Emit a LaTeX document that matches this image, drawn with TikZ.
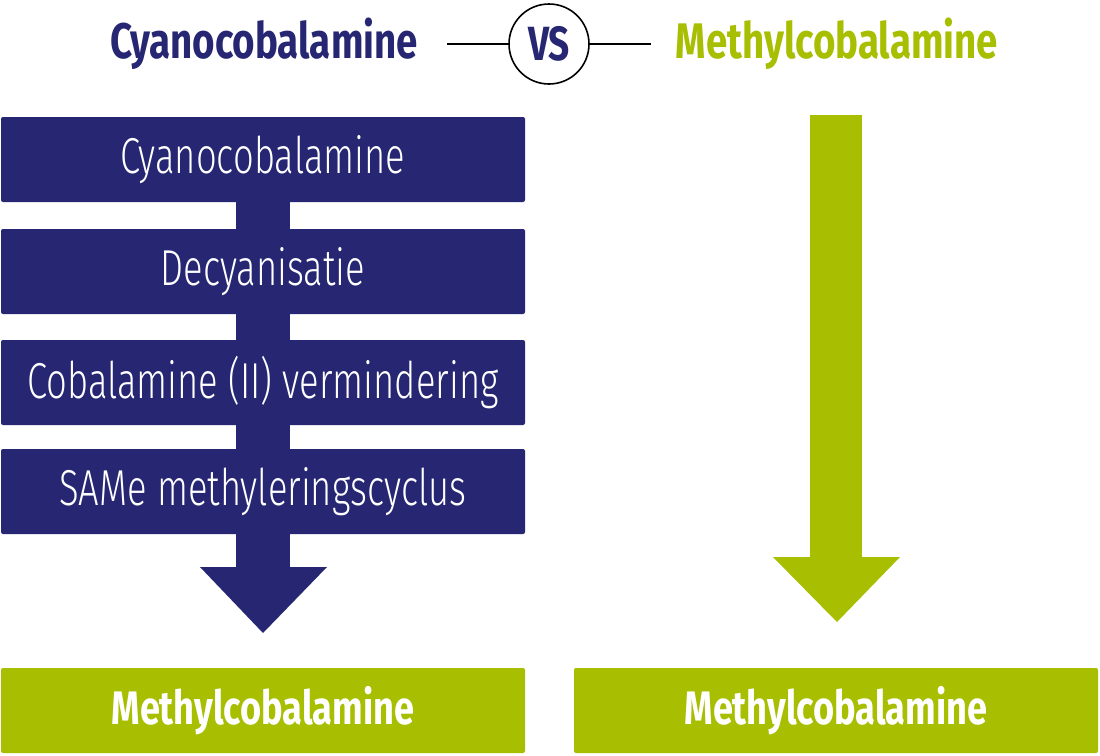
\documentclass[tikz,border=0pt]{standalone}
\usepackage{fontspec}
\setmainfont{Fira Sans}
\newfontfamily\cond[FakeStretch=0.77]{Fira Sans}
\newfontfamily\condl[FakeStretch=0.72]{Fira Sans Light}
\definecolor{navy}{HTML}{262673}
\definecolor{lime}{HTML}{A8BE00}
\tikzset{
  box/.style={rectangle, rounded corners=2pt, minimum width=524pt, minimum height=85pt, inner sep=0pt, text=white},
  bluebox/.style={box, fill=navy, font=\condl\fontsize{50.5}{50.5}\selectfont},
  greenbox/.style={box, fill=lime, font=\cond\bfseries\fontsize{47}{47}\selectfont},
  title/.style={font=\cond\bfseries\fontsize{50}{50}\selectfont, inner sep=0pt},
}
\begin{document}
\begin{tikzpicture}[x=1pt,y=-1pt]
\useasboundingbox[fill=white] (0,0) rectangle (1100,755);
% title
\node[title, text=navy] (t1) at (264,44) {Cyanocobalamine};
\node[title, text=lime] (t2) at (837,44) {Methylcobalamine};
\node[circle, draw=black, line width=1.6pt, minimum size=80pt, inner sep=0pt, text=navy, font=\cond\bfseries\fontsize{48}{48}\selectfont] (vs) at (549,44) {VS};
\coordinate (l1) at (447,44);
\coordinate (l2) at (651,44);
\draw[line width=1.6pt] (l1) -- (vs.west);
\draw[line width=1.6pt] (vs.east) -- (l2);
% left flow
\coordinate (s1) at (236,202);
\coordinate (s2) at (290,567);
\fill[navy] (s1) rectangle (s2);
\coordinate (h1) at (200,567);
\coordinate (h2) at (327,567);
\coordinate (h3) at (263,633);
\fill[navy] (h1) -- (h2) -- (h3) -- cycle;
\node[bluebox] (c1) at (263,159.5) {Cyanocobalamine};
\node[bluebox] (c2) at (263,271.5) {Decyanisatie};
\node[bluebox] (c3) at (263,382.5) {Cobalamine (II) vermindering};
\node[bluebox] (c4) at (263,491.5) {SAMe methyleringscyclus};
\node[greenbox] (m1) at (263,710.5) {Methylcobalamine};
% right flow
\coordinate (g1) at (810,115);
\coordinate (g2) at (862,557);
\fill[lime] (g1) rectangle (g2);
\coordinate (k1) at (773,557);
\coordinate (k2) at (900,557);
\coordinate (k3) at (837,622);
\fill[lime] (k1) -- (k2) -- (k3) -- cycle;
\node[greenbox] (m2) at (836,710.5) {Methylcobalamine};
\end{tikzpicture}
\end{document}
